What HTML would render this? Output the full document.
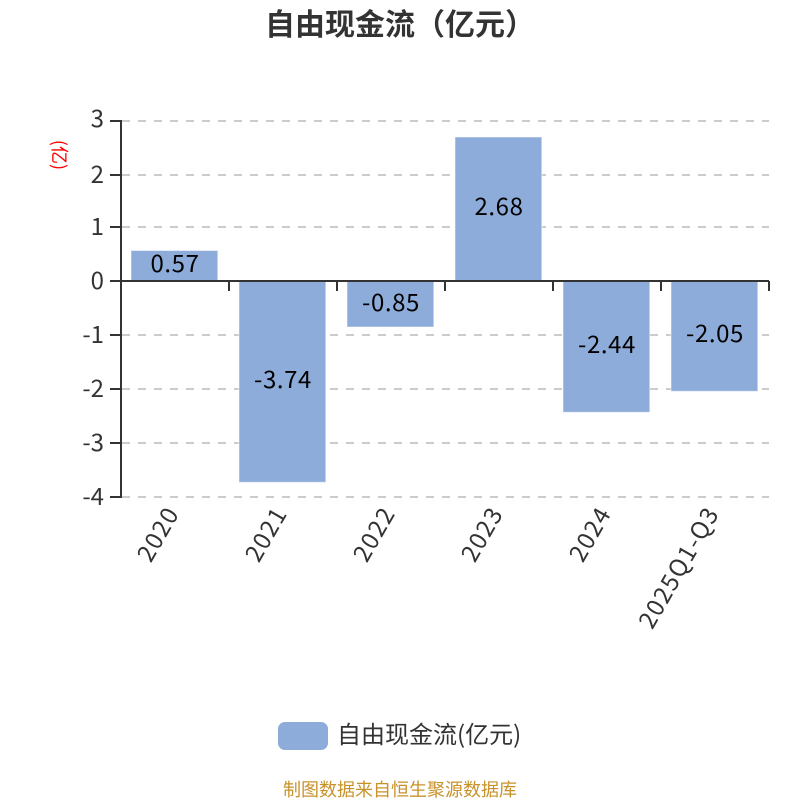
<!DOCTYPE html>
<html><head><meta charset="utf-8"><style>html,body{margin:0;padding:0;background:#fff}svg{display:block}text{font-family:"Noto Sans CJK SC","Liberation Sans",sans-serif}</style></head><body>
<svg width="800" height="800" viewBox="0 0 800 800" xmlns="http://www.w3.org/2000/svg">
<rect width="800" height="800" fill="#fff"/>
<text x="400" y="35" text-anchor="middle" font-size="30" font-weight="700" fill="#333">自由现金流（亿元）</text>
<g stroke="#ccc" stroke-width="2" stroke-dasharray="8 8">
<path d="M122 121H769M122 175H769M122 227H769M122 335H769M122 389H769M122 443H769M122 497H769"/>
</g>
<g fill="#8eacda" stroke="#fff" stroke-opacity="0.5" stroke-width="1">
<rect x="131" y="250.500" width="86.800" height="30.500"/>
<rect x="239" y="281" width="86.800" height="201.300"/>
<rect x="347" y="281" width="86.800" height="46"/>
<rect x="455" y="137" width="86.800" height="144"/>
<rect x="563" y="281" width="86.800" height="131.300"/>
<rect x="671" y="281" width="86.800" height="110.300"/>
</g>
<g stroke="#333" stroke-width="2" fill="none">
<path d="M121 120V498"/>
<path d="M110 121H121M110 175H121M110 227H121M110 281H121M110 335H121M110 389H121M110 443H121M110 497H121"/>
<path d="M121 281H769"/>
<path d="M229 281V291M337 281V291M445 281V291M553 281V291M661 281V291M769 281V291"/>
</g>
<g font-size="24" fill="#333" text-anchor="end">
<text x="104" y="127">3</text><text x="104" y="183">2</text><text x="104" y="235">1</text><text x="104" y="289">0</text><text x="104" y="343">-1</text><text x="104" y="397">-2</text><text x="104" y="451">-3</text><text x="104" y="505">-4</text>
</g>
<text transform="translate(53 155) rotate(90)" text-anchor="middle" font-size="18" fill="#f00">(亿)</text>
<g font-size="24" fill="#000" text-anchor="middle" letter-spacing="0.6">
<text x="175" y="272">0.57</text>
<text x="283" y="388">-3.74</text>
<text x="391" y="311">-0.85</text>
<text x="499" y="215">2.68</text>
<text x="607" y="353">-2.44</text>
<text x="715" y="342">-2.05</text>
</g>
<g font-size="24" fill="#333" text-anchor="end" letter-spacing="1.3">
<text transform="translate(180 513) rotate(-60)">2020</text>
<text transform="translate(288 513) rotate(-60)">2021</text>
<text transform="translate(396 513) rotate(-60)">2022</text>
<text transform="translate(504 513) rotate(-60)">2023</text>
<text transform="translate(612 513) rotate(-60)">2024</text>
<text transform="translate(720 513) rotate(-60)">2025Q1-Q3</text>
</g>
<rect x="278" y="722" width="50" height="28" rx="7" fill="#8eacda"/>
<text x="337" y="743" font-size="24" fill="#333">自由现金流(亿元)</text>
<text x="400" y="796" text-anchor="middle" font-size="18" fill="#c8922a">制图数据来自恒生聚源数据库</text>
</svg>
</body></html>
